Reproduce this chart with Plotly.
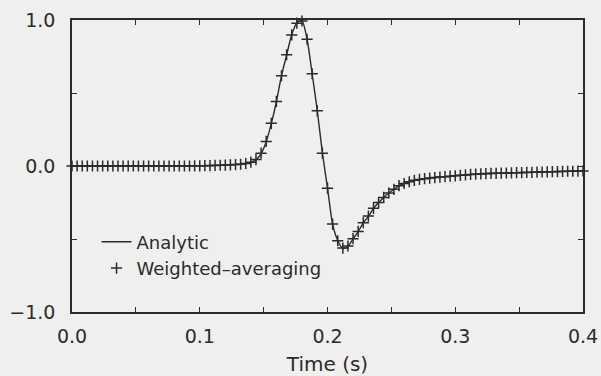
import plotly.graph_objects as go

# sample times (s)
time_s = [
    0.000, 0.004, 0.008, 0.012, 0.016, 0.020, 0.024, 0.028, 0.032, 0.036,
    0.040, 0.044, 0.048, 0.052, 0.056, 0.060, 0.064, 0.068, 0.072, 0.076,
    0.080, 0.084, 0.088, 0.092, 0.096, 0.100, 0.104, 0.108, 0.112, 0.116,
    0.120, 0.124, 0.128, 0.132, 0.136, 0.140, 0.144, 0.148, 0.152, 0.156,
    0.160, 0.164, 0.168, 0.172, 0.176, 0.180, 0.184, 0.188, 0.192, 0.196,
    0.200, 0.204, 0.208, 0.212, 0.216, 0.220, 0.224, 0.228, 0.232, 0.236,
    0.240, 0.244, 0.248, 0.252, 0.256, 0.260, 0.264, 0.268, 0.272, 0.276,
    0.280, 0.284, 0.288, 0.292, 0.296, 0.300, 0.304, 0.308, 0.312, 0.316,
    0.320, 0.324, 0.328, 0.332, 0.336, 0.340, 0.344, 0.348, 0.352, 0.356,
    0.360, 0.364, 0.368, 0.372, 0.376, 0.380, 0.384, 0.388, 0.392, 0.396,
    0.400,
]

# analytic waveform
analytic = [
    0.000, 0.000, 0.000, 0.000, 0.000, 0.000, 0.000, 0.000, 0.000, 0.000,
    0.000, 0.000, 0.000, 0.000, 0.000, 0.000, 0.000, 0.000, 0.000, 0.000,
    0.000, 0.000, 0.000, 0.000, 0.001, 0.001, 0.002, 0.003, 0.004, 0.005,
    0.006, 0.008, 0.010, 0.012, 0.016, 0.025, 0.042, 0.085, 0.165, 0.290,
    0.440, 0.620, 0.760, 0.900, 0.980, 0.995, 0.870, 0.630, 0.380, 0.090,
    -0.150, -0.400, -0.510, -0.565, -0.550, -0.500, -0.450, -0.390, -0.345, -0.290,
    -0.250, -0.215, -0.185, -0.160, -0.135, -0.120, -0.108, -0.098, -0.092, -0.087,
    -0.083, -0.079, -0.076, -0.073, -0.070, -0.067, -0.064, -0.061, -0.058, -0.056,
    -0.054, -0.052, -0.051, -0.050, -0.049, -0.048, -0.047, -0.046, -0.045, -0.044,
    -0.043, -0.042, -0.041, -0.040, -0.039, -0.038, -0.037, -0.036, -0.036, -0.035,
    -0.034,
]

# weighted-averaging result (lies on the analytic curve)
weighted = [
    0.000, 0.000, 0.000, 0.000, 0.000, 0.000, 0.000, 0.000, 0.000, 0.000,
    0.000, 0.000, 0.000, 0.000, 0.000, 0.000, 0.000, 0.000, 0.000, 0.000,
    0.000, 0.000, 0.000, 0.000, 0.001, 0.001, 0.002, 0.003, 0.004, 0.005,
    0.006, 0.008, 0.010, 0.012, 0.017, 0.026, 0.044, 0.088, 0.168, 0.292,
    0.442, 0.618, 0.762, 0.898, 0.978, 0.993, 0.868, 0.632, 0.378, 0.088,
    -0.152, -0.398, -0.512, -0.562, -0.548, -0.498, -0.448, -0.388, -0.343, -0.290,
    -0.250, -0.215, -0.185, -0.160, -0.135, -0.120, -0.108, -0.098, -0.092, -0.087,
    -0.083, -0.079, -0.076, -0.073, -0.070, -0.067, -0.064, -0.061, -0.058, -0.056,
    -0.054, -0.052, -0.051, -0.050, -0.049, -0.048, -0.047, -0.046, -0.045, -0.044,
    -0.043, -0.042, -0.041, -0.040, -0.039, -0.038, -0.037, -0.036, -0.036, -0.035,
    -0.034,
]

x_tickvals = [0.0, 0.1, 0.2, 0.3, 0.4]
x_ticktext = ["0.0", "0.1", "0.2", "0.3", "0.4"]
y_tickvals = [-1.0, 0.0, 1.0]
y_ticktext = ["\u22121.0", "0.0", "1.0"]

ink = "#2b2b2b"
bg = "#efefed"
font_family = "DejaVu Sans, Liberation Sans, Arial, sans-serif"

fig = go.Figure()
fig.add_trace(go.Scatter(
    x=time_s, y=analytic, mode="lines", name="Analytic",
    line=dict(color=ink, width=1.4, shape="spline", smoothing=0.6),
    cliponaxis=False,
))
fig.add_trace(go.Scatter(
    x=time_s, y=weighted, mode="markers", name="Weighted\u2013averaging",
    marker=dict(symbol="cross-thin", size=8, line=dict(color=ink, width=1.5)),
    cliponaxis=False,
))

axis_common = dict(
    showgrid=False, zeroline=False, showline=True, linecolor=ink, linewidth=1.5,
    mirror="ticks", ticks="inside", ticklen=5, tickwidth=1.2, tickcolor=ink,
    tickfont=dict(family=font_family, size=19, color=ink),
    automargin=False,
)

fig.update_layout(
    width=601, height=376,
    margin=dict(l=72, r=18, t=20, b=64),
    paper_bgcolor=bg, plot_bgcolor=bg,
    font=dict(family=font_family, color=ink),
    showlegend=True,
    legend=dict(
        x=0.048, y=0.303, xanchor="left", yanchor="top",
        bgcolor="rgba(0,0,0,0)", borderwidth=0,
        font=dict(family=font_family, size=18, color=ink),
        itemwidth=30, tracegroupgap=0,
    ),
    xaxis=dict(
        range=[0, 0.4], tickvals=x_tickvals, ticktext=x_ticktext,
        ticklabelstandoff=6,
        minor=dict(dtick=0.05, ticks="inside", ticklen=5, tickwidth=1.2, tickcolor=ink),
        title=dict(text="Time (s)", font=dict(family=font_family, size=20, color=ink), standoff=16),
        **axis_common,
    ),
    yaxis=dict(
        range=[-1, 1], tickvals=y_tickvals, ticktext=y_ticktext,
        ticklabelstandoff=11,
        minor=dict(dtick=0.5, ticks="inside", ticklen=5, tickwidth=1.2, tickcolor=ink),
        **axis_common,
    ),
)

fig.write_html(
    "out.html",
    config={"displayModeBar": False},
    post_script="document.body.style.margin='0';document.body.style.background='#efefed';"
)
